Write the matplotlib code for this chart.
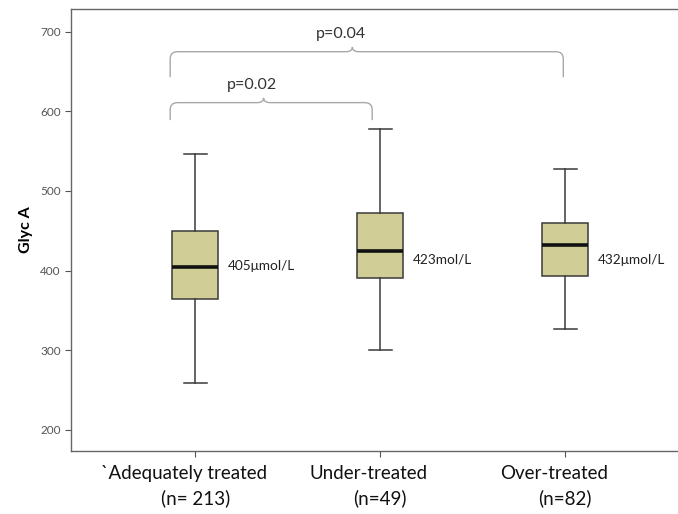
import matplotlib
matplotlib.use("Agg")
import matplotlib.pyplot as plt
from matplotlib.path import Path
from matplotlib.patches import PathPatch

plt.rcParams['font.family'] = ['Lato', 'DejaVu Sans']

# values
groups = ["`Adequately treated", "Under-treated", "Over-treated"]
counts = ["(n= 213)", "(n=49)", "(n=82)"]
whis_lo = [259, 300, 326]
q1 = [364, 390, 393]
medians = [405, 424, 432]
q3 = [450, 472, 460]
whis_hi = [546, 578, 528]
median_labels = ["405\u03bcmol/L", "423mol/L", "432\u03bcmol/L"]

# comparisons: (group a, group b, p label)
comparisons = [(0, 1, "p=0.02"), (0, 2, "p=0.04")]

stats = []
for i in range(len(groups)):
    stats.append(dict(whislo=whis_lo[i], q1=q1[i], med=medians[i],
                      q3=q3[i], whishi=whis_hi[i], fliers=[]))

fig = plt.figure(figsize=(6.78, 5.14), dpi=100)
ax = fig.add_axes([0.105, 0.123, 0.895, 0.86])

pos = [1, 2, 3]
ax.bxp(stats, positions=pos, widths=0.25, patch_artist=True,
       boxprops=dict(facecolor="#d0cd96", edgecolor="#3a3a3a", linewidth=1.1),
       medianprops=dict(color="#111111", linewidth=2.6),
       whiskerprops=dict(color="#3a3a3a", linewidth=1.1),
       capprops=dict(color="#3a3a3a", linewidth=1.1),
       capwidths=0.125)

ax.set_xlim(0.33, 3.61)
ax.set_ylim(173.5, 729)
ax.set_yticks([200, 300, 400, 500, 600, 700])
ax.tick_params(axis="y", labelsize=8.5, colors="#555555", length=4, width=0.8)
ax.tick_params(axis="x", length=4, width=0.8, colors="#555555")
ax.set_xticks(pos)
ax.set_xticklabels([])
for s in ["left", "bottom", "top"]:
    ax.spines[s].set_color("#666666")
    ax.spines[s].set_linewidth(1.0)
ax.spines["right"].set_visible(False)

ax.set_ylabel("Glyc A", fontsize=11.5, fontweight="bold", labelpad=5)

# category labels, two lines
for i, p in enumerate(pos):
    ax.annotate(groups[i], xy=(p, 0), xycoords=("data", "axes fraction"),
                xytext=(-8, -16), textcoords="offset points",
                ha="center", va="center", fontsize=13.5, color="#111111")
    ax.annotate(counts[i], xy=(p, 0), xycoords=("data", "axes fraction"),
                xytext=(0, -34.5), textcoords="offset points",
                ha="center", va="center", fontsize=13.5, color="#111111")

# median labels
label_y = [406, 414, 413]
for i, p in enumerate(pos):
    ax.text(p + 0.178, label_y[i], median_labels[i], fontsize=9.8,
            color="#222222", ha="left", va="center")


def brace(ax, x0, x1, ytop, ybot, xm, ypeak, text):
    rx, ry = 0.04, 9
    b = 0.035
    verts = [(x0, ybot), (x0, ytop - ry), (x0, ytop), (x0 + rx, ytop),
             (xm - b, ytop), (xm, ytop), (xm, ypeak),
             (xm, ytop), (xm + b, ytop),
             (x1 - rx, ytop), (x1, ytop), (x1, ytop - ry), (x1, ybot)]
    codes = [Path.MOVETO, Path.LINETO, Path.CURVE3, Path.CURVE3,
             Path.LINETO, Path.CURVE3, Path.CURVE3,
             Path.CURVE3, Path.CURVE3,
             Path.LINETO, Path.CURVE3, Path.CURVE3, Path.LINETO]
    ax.add_patch(PathPatch(Path(verts, codes), fill=False,
                           edgecolor="#a8a8a8", linewidth=1.0))
    ax.text(xm - 0.06, ypeak + 16, text, fontsize=11.5, color="#333333",
            ha="center", va="center")


brace(ax, 0.865, 1.957, 611, 589, 1.37, 617, comparisons[0][2])
brace(ax, 0.865, 2.99, 675, 643, 1.85, 681, comparisons[1][2])

fig.savefig("out.png", dpi=100)
